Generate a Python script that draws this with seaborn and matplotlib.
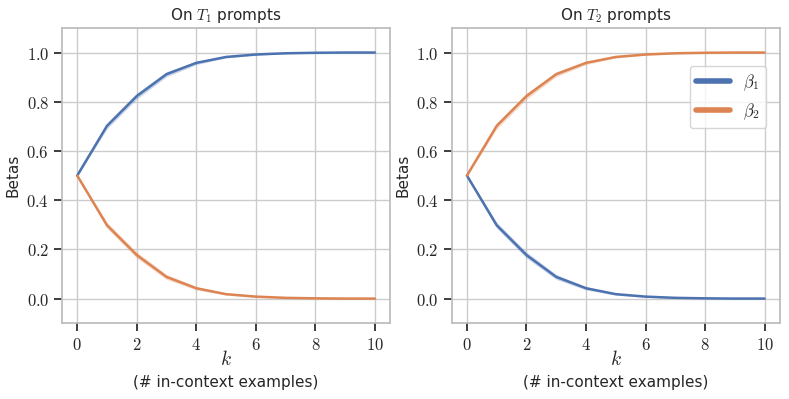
import numpy as np
import pandas as pd
import seaborn as sns
import matplotlib
from matplotlib import pyplot as plt

# values
ks = [0, 1, 2, 3, 4, 5, 6, 7, 8, 9, 10]
beta_main = [0.5, 0.702, 0.823, 0.912, 0.958, 0.982, 0.992, 0.997, 0.999, 1.0, 1.0]
beta_other = [0.5, 0.298, 0.177, 0.088, 0.042, 0.018, 0.008, 0.003, 0.001, 0.0, 0.0]
band = [0.004, 0.012, 0.012, 0.010, 0.007, 0.004, 0.003, 0.002, 0.001, 0.001, 0.001]
titles = ['On $T_1$ prompts', 'On $T_2$ prompts']

sns.set_theme(style='whitegrid', rc={'xtick.bottom': True, 'ytick.left': True})
plt.rcParams['font.family'] = ['DejaVu Sans']
plt.rcParams['mathtext.fontset'] = 'cm'
plt.rcParams['font.size'] = 11

pal = sns.color_palette('deep')

fig, axes = plt.subplots(1, 2, figsize=(7.89, 3.99), dpi=100)

for i, ax in enumerate(axes):
    if i == 0:
        b1, b2 = beta_main, beta_other
    else:
        b1, b2 = beta_other, beta_main
    df = pd.DataFrame({'k': ks, 'b1': b1, 'b2': b2})
    for col, c, lab in [('b1', pal[0], r'$\beta_1$'), ('b2', pal[1], r'$\beta_2$')]:
        sns.lineplot(data=df, x='k', y=col, color=c, lw=1.8, ax=ax, label=lab)
        lo = np.array(df[col]) - np.array(band)
        hi = np.array(df[col]) + np.array(band)
        ax.fill_between(ks, lo, hi, color=c, alpha=0.3, lw=0)
    ax.set_ylim(-0.1, 1.1)
    ax.set_xlim(-0.5, 10.5)
    ax.set_xticks([0, 2, 4, 6, 8, 10])
    ax.set_yticks([0, 0.2, 0.4, 0.6, 0.8, 1.0])
    ax.set_xticklabels([f'${v}$' for v in [0, 2, 4, 6, 8, 10]], fontsize=12)
    ax.set_yticklabels([f'${v:.1f}$' for v in [0, 0.2, 0.4, 0.6, 0.8, 1.0]], fontsize=12)
    ax.set_title(titles[i], fontsize=11)
    ax.set_ylabel('Betas', fontsize=11)
    ax.set_xlabel('$k$', fontsize=14, labelpad=-3.5)
    ax.annotate('(# in-context examples)', xy=(0.5, 0), xycoords='axes fraction',
                xytext=(0, -42.5), textcoords='offset points',
                ha='center', va='center', fontsize=11)
    for s in ax.spines.values():
        s.set_color('#bbbbbb')
    if i == 1:
        leg = ax.legend(loc='upper right', bbox_to_anchor=(0.985, 0.9), fontsize=12)
        for h in leg.get_lines():
            h.set_linewidth(4)
    else:
        ax.get_legend().remove()

plt.subplots_adjust(left=0.079, right=0.988, top=0.93, bottom=0.19, wspace=0.19)
plt.savefig('out.png', dpi=100)
